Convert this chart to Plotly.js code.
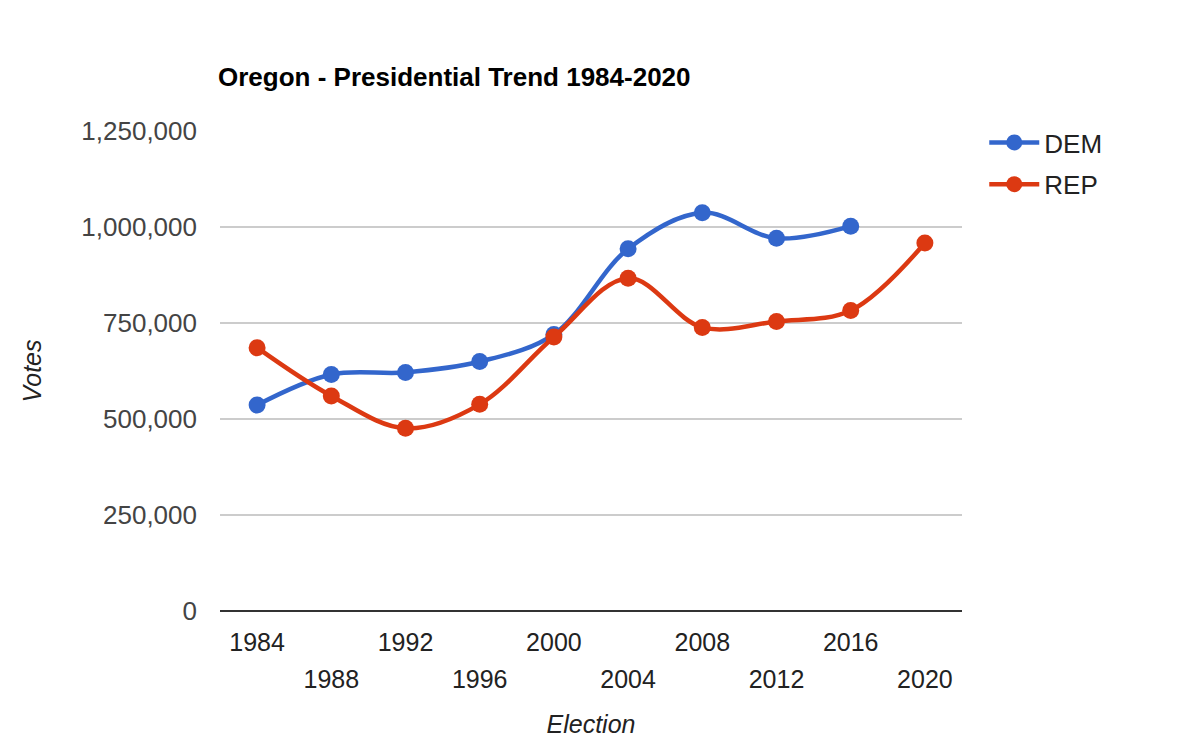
<!DOCTYPE html>
<html>
<head>
<meta charset="utf-8">
<script src="https://cdn.plot.ly/plotly-3.0.1.min.js"></script>
<style>html,body{margin:0;padding:0;background:#fff;}#chart{width:1182px;height:754px;}</style>
</head>
<body>
<div id="chart"></div>
<script>
const years = [1984, 1988, 1992, 1996, 2000, 2004, 2008, 2012, 2016, 2020];
const demVotes = [536479, 616067, 621314, 649641, 720342, 943163, 1037291, 970488, 1002106, null];
const repVotes = [685700, 560126, 475757, 538152, 713577, 866831, 738475, 754175, 782403, 958448];
const seriesNames = ['DEM', 'REP'];
const seriesColors = ['#3366cc', '#dc3912'];
const yTicks = [0, 250000, 500000, 750000, 1000000, 1250000];

const upperYears = years.filter((y, i) => i % 2 === 0);
const lowerYears = years.filter((y, i) => i % 2 === 1);

const FONT = 'Arial, "Liberation Sans", sans-serif';

function mk(name, vals, color) {
  return {
    x: years, y: vals, name: name, type: 'scatter', mode: 'lines+markers',
    legendgroup: name,
    line: {color: color, width: 4.5, shape: 'spline', smoothing: 1},
    marker: {color: color, size: 17},
    connectgaps: false,
    hoverinfo: 'x+y+name'
  };
}

const data = [
  mk(seriesNames[0], demVotes, seriesColors[0]),
  mk(seriesNames[1], repVotes, seriesColors[1]),
  // empty carrier so the second (staggered) tick-label row is drawn
  {x: [], y: [], xaxis: 'x2', yaxis: 'y', type: 'scatter', mode: 'markers', showlegend: false, hoverinfo: 'skip'}
];

const layout = {
  width: 1182, height: 754,
  margin: {l: 220, r: 220, t: 131, b: 143, pad: 0},
  paper_bgcolor: '#fff', plot_bgcolor: '#fff',
  font: {family: FONT, size: 25, color: '#222'},
  title: {
    text: '<b>Oregon - Presidential Trend 1984-2020</b>',
    font: {family: FONT, size: 26, color: '#000'},
    x: 218 / 1182, xref: 'container', xanchor: 'left',
    y: 1 - 77 / 754, yref: 'container', yanchor: 'middle'
  },
  xaxis: {
    type: 'linear', range: [1982, 2022], fixedrange: true,
    tickvals: upperYears, ticktext: upperYears.map(String),
    ticks: '', showgrid: false, zeroline: false, showline: false,
    tickfont: {family: FONT, size: 25, color: '#222'},
    ticklabelstandoff: 14,
    title: {text: '<i>Election</i>', font: {family: FONT, size: 25, color: '#222'}, standoff: 60}
  },
  xaxis2: {
    type: 'linear', range: [1982, 2022], overlaying: 'x', anchor: 'y', side: 'bottom', fixedrange: true,
    tickvals: lowerYears, ticktext: lowerYears.map(String),
    ticks: '', showgrid: false, zeroline: false, showline: false,
    tickfont: {family: FONT, size: 25, color: '#222'},
    ticklabelstandoff: 51
  },
  yaxis: {
    range: [0, 1250000], fixedrange: true,
    tickvals: yTicks, tickformat: ',d',
    ticks: '', showgrid: true, gridcolor: '#cccccc', gridwidth: 2,
    zeroline: true, zerolinecolor: '#333333', zerolinewidth: 2,
    showline: false,
    tickfont: {family: FONT, size: 26, color: '#444'},
    ticklabelstandoff: 22,
    title: {text: '<i>Votes</i>', font: {family: FONT, size: 25, color: '#222'}, standoff: 32}
  },
  showlegend: true,
  legend: {
    x: 1.03, xanchor: 'left', y: 1.025, yanchor: 'top',
    font: {family: FONT, size: 26, color: '#222'},
    bgcolor: 'rgba(0,0,0,0)', tracegroupgap: 5, itemwidth: 50
  }
};

Plotly.newPlot('chart', data, layout, {displayModeBar: false});
</script>
</body>
</html>
